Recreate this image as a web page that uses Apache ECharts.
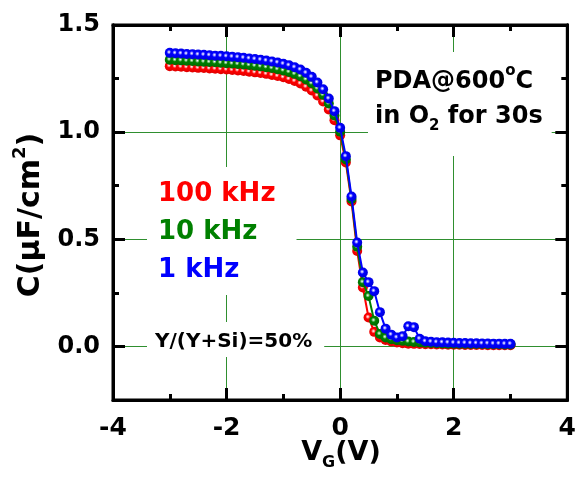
<!DOCTYPE html>
<html>
<head>
<meta charset="utf-8">
<script src="https://cdn.jsdelivr.net/npm/echarts@6/dist/echarts.min.js"></script>
<style>
  html, body { margin: 0; padding: 0; background: #fff; }
  #chart { width: 579px; height: 481px; }
</style>
</head>
<body>
<div id="chart"></div>
<script>
// gate voltage (V)
const volts = [-3.0, -2.9, -2.8, -2.7, -2.6, -2.5, -2.4, -2.3, -2.2, -2.1,
  -2.0, -1.9, -1.8, -1.7, -1.6, -1.5, -1.4, -1.3, -1.2, -1.1,
  -1.0, -0.9, -0.8, -0.7, -0.6, -0.5, -0.4, -0.3, -0.2, -0.1,
  0.0, 0.1, 0.2, 0.3, 0.4, 0.5, 0.6, 0.7, 0.8, 0.9,
  1.0, 1.1, 1.2, 1.3, 1.4, 1.5, 1.6, 1.7, 1.8, 1.9,
  2.0, 2.1, 2.2, 2.3, 2.4, 2.5, 2.6, 2.7, 2.8, 2.9, 3.0]
// capacitance (uF/cm2) per frequency
const c100k = [1.308, 1.306, 1.305, 1.303, 1.302, 1.300, 1.299, 1.297, 1.296, 1.294,
  1.292, 1.290, 1.288, 1.285, 1.282, 1.279, 1.276, 1.272, 1.267, 1.262,
  1.256, 1.248, 1.239, 1.227, 1.212, 1.194, 1.171, 1.143, 1.106, 1.056,
  0.985, 0.858, 0.676, 0.445, 0.275, 0.135, 0.068, 0.042, 0.030, 0.023,
  0.018, 0.015, 0.013, 0.012, 0.011, 0.010, 0.010, 0.009, 0.009, 0.008,
  0.008, 0.008, 0.007, 0.007, 0.007, 0.007, 0.006, 0.006, 0.006, 0.006, 0.006]
const c10k = [1.338, 1.336, 1.335, 1.333, 1.332, 1.330, 1.329, 1.327, 1.326, 1.324,
  1.322, 1.320, 1.318, 1.316, 1.313, 1.310, 1.307, 1.303, 1.299, 1.294,
  1.288, 1.281, 1.272, 1.261, 1.246, 1.228, 1.204, 1.174, 1.134, 1.078,
  1.002, 0.872, 0.688, 0.465, 0.300, 0.235, 0.120, 0.058, 0.042, 0.034,
  0.029, 0.026, 0.023, 0.021, 0.019, 0.017, 0.016, 0.015, 0.014, 0.013,
  0.013, 0.012, 0.012, 0.011, 0.011, 0.011, 0.010, 0.010, 0.010, 0.009, 0.009]
const c1k = [1.370, 1.368, 1.367, 1.365, 1.364, 1.362, 1.361, 1.359, 1.357, 1.356,
  1.354, 1.352, 1.350, 1.347, 1.344, 1.341, 1.338, 1.334, 1.330, 1.325,
  1.319, 1.312, 1.303, 1.292, 1.277, 1.258, 1.232, 1.200, 1.157, 1.098,
  1.020, 0.888, 0.700, 0.485, 0.345, 0.300, 0.258, 0.160, 0.083, 0.055,
  0.042, 0.048, 0.094, 0.090, 0.036, 0.024, 0.022, 0.020, 0.019, 0.018,
  0.017, 0.016, 0.016, 0.015, 0.015, 0.014, 0.014, 0.013, 0.013, 0.012, 0.012]

const seriesNames = ['100 kHz', '10 kHz', '1 kHz']
const seriesValues = [c100k, c10k, c1k]
const yMajorTicks = [0, 0.5, 1.0, 1.5]
const yMinorTicks = [-0.25, 0.25, 0.75, 1.25]
const xGridValues = [-2, 0, 2]
const yGridValues = [0, 0.5, 1.0]

const colors = ['#ff0000', '#008000', '#0000ff']
const edges = ['#e00000', '#006a00', '#0000dd']
const highlights = ['#ffb8b8', '#a8dca8', '#b8b8ff']
const font = 'DejaVu Sans'
const gridGreen = '#2f8f2f'
const black = { color: '#000', width: 3 }

const chart = echarts.init(document.getElementById('chart'))

// 只画刻度和轴线的坐标轴
function yTickAxis(position, major) {
  return {
    type: 'value', position: position, min: -0.25, max: 1.5, z: 2,
    axisLine: { show: true, onZero: false, lineStyle: black },
    axisTick: { show: true, inside: true, length: major ? 12 : 6, customValues: major ? yMajorTicks : yMinorTicks, lineStyle: black },
    axisLabel: { show: false },
    splitLine: { show: false }
  }
}
function xTickAxis(position) {
  return {
    type: 'value', position: position, min: -4, max: 4, interval: 2, z: 2,
    axisLine: { show: true, onZero: false, lineStyle: black },
    axisTick: { show: true, inside: true, length: 12, lineStyle: black },
    minorTick: { show: true, splitNumber: 2, length: 6, lineStyle: black },
    axisLabel: { show: false },
    splitLine: { show: false }
  }
}

const series = seriesNames.map((name, i) => ({
  name: name,
  type: 'line',
  xAxisIndex: 0,
  yAxisIndex: 0,
  data: volts.map((v, j) => [v, seriesValues[i][j]]),
  symbol: 'circle',
  symbolSize: 10,
  lineStyle: { color: colors[i], width: 2 },
  itemStyle: {
    // 小白色高光的球形点
    color: new echarts.graphic.RadialGradient(0.42, 0.42, 0.55, [
      { offset: 0, color: '#ffffff' },
      { offset: 0.14, color: highlights[i] },
      { offset: 0.42, color: colors[i] },
      { offset: 1, color: edges[i] }
    ]),
    borderWidth: 0
  },
  z: 5 + i
}))

// 网格线用 markLine 画
series[0].markLine = {
  silent: true,
  z: 1,
  symbol: ['none', 'none'],
  label: { show: false },
  lineStyle: { color: gridGreen, width: 1, type: 'solid' },
  data: xGridValues.map(v => ({ xAxis: v })).concat(yGridValues.map(v => ({ yAxis: v })))
}

const option = {
  animation: false,
  backgroundColor: '#fff',
  grid: { left: 113, right: 9, top: 25, bottom: 81, show: true, borderColor: '#000', borderWidth: 3, backgroundColor: 'transparent' },
  xAxis: [
    {
      type: 'value', position: 'bottom', min: -4, max: 4, interval: 2,
      axisLine: { show: false, onZero: false },
      axisTick: { show: false },
      axisLabel: { show: true, margin: 16, fontSize: 25, fontWeight: 'bold', fontFamily: font, color: '#000' },
      splitLine: { show: false }
    },
    xTickAxis('bottom'),
    xTickAxis('top')
  ],
  yAxis: [
    {
      type: 'value', position: 'left', min: -0.25, max: 1.5,
      axisLine: { show: false, onZero: false },
      axisTick: { show: false, customValues: yMajorTicks },
      axisLabel: {
        show: true, customValues: yMajorTicks, margin: 13,
        fontSize: 24, fontWeight: 'bold', fontFamily: font, color: '#000',
        formatter: v => v.toFixed(1)
      },
      splitLine: { show: false }
    },
    yTickAxis('left', true),
    yTickAxis('left', false),
    yTickAxis('right', true),
    yTickAxis('right', false)
  ],
  legend: {
    orient: 'vertical',
    left: 147,
    top: 167,
    icon: 'none',
    itemWidth: 0,
    itemGap: 12,
    selectedMode: false,
    backgroundColor: '#fff',
    padding: [14, 21, 12, 6],
    textStyle: { fontSize: 26, fontWeight: 'bold', fontFamily: font },
    data: seriesNames.map((n, i) => ({ name: n, textStyle: { color: colors[i] } }))
  },
  graphic: [
    {
      type: 'text', x: 368, y: 52, z: 10,
      style: {
        text: '{b|PDA@600}{sup|o}{b|C}\n{b|in O}{sub|2}{b| for 30s}',
        backgroundColor: '#fff',
        padding: [12, 9, 22, 7],
        rich: {
          b: { fontSize: 24, fontWeight: 'bold', fontFamily: font, color: '#000', lineHeight: 35 },
          sup: { fontSize: 15, fontWeight: 'bold', fontFamily: font, color: '#000', verticalAlign: 'top' },
          sub: { fontSize: 15, fontWeight: 'bold', fontFamily: font, color: '#000', verticalAlign: 'bottom' }
        }
      }
    },
    {
      type: 'text', x: 147, y: 322, z: 10,
      style: {
        text: 'Y/(Y+Si)=50%',
        fontSize: 20, fontWeight: 'bold', fontFamily: font, fill: '#000',
        backgroundColor: '#fff',
        padding: [10, 12, 5, 8]
      }
    },
    {
      // y轴标题
      type: 'text', x: 31, y: 215, rotation: Math.PI / 2, z: 10,
      style: {
        text: '{b|C(μF/cm}{sup|2}{b|)}',
        align: 'center', verticalAlign: 'middle',
        rich: {
          b: { fontSize: 30, fontWeight: 'bold', fontFamily: font, color: '#000', lineHeight: 40 },
          sup: { fontSize: 18, fontWeight: 'bold', fontFamily: font, color: '#000', verticalAlign: 'top' }
        }
      }
    },
    {
      // x轴标题
      type: 'text', x: 341, y: 453, z: 10,
      style: {
        text: '{b|V}{sub|G}{b|(V)}',
        align: 'center', verticalAlign: 'middle',
        rich: {
          b: { fontSize: 27, fontWeight: 'bold', fontFamily: font, color: '#000', lineHeight: 36 },
          sub: { fontSize: 16, fontWeight: 'bold', fontFamily: font, color: '#000', verticalAlign: 'bottom' }
        }
      }
    }
  ],
  series: series
}

chart.setOption(option)
</script>
</body>
</html>
